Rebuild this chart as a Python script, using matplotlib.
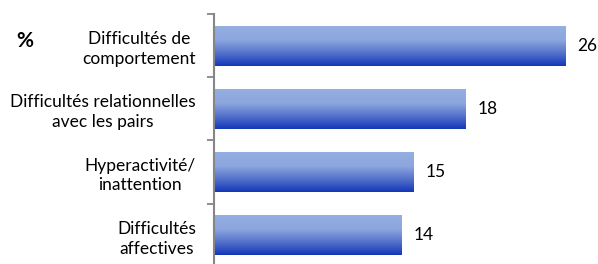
import numpy as np
import matplotlib
matplotlib.use('Agg')
import matplotlib.pyplot as plt
from matplotlib.colors import LinearSegmentedColormap

# data (labels show rounded values)
categories = ['Difficultés de\ncomportement',
              'Difficultés relationnelles\navec les pairs',
              'Hyperactivité/\ninattention',
              'Difficultés\naffectives']
values = [25.7, 18.4, 14.6, 13.7]

plt.rcParams['font.family'] = ['Lato', 'DejaVu Sans']

fig = plt.figure(figsize=(5.98, 2.64), dpi=100)
ax = fig.add_axes([0.358, -0.011, 0.642, 0.958])

pos = np.arange(len(categories))
bars = ax.barh(pos, values, height=0.63, color='none', edgecolor='none')
ax.set_ylim(len(categories) - 0.5, -0.5)
ax.set_xlim(0, 28.1)

# vertical gradient: light on top, dark blue at bottom
cmap = LinearSegmentedColormap.from_list('grad', [
    (0.0, (149/255, 175/255, 226/255)),
    (0.35, (140/255, 166/255, 222/255)),
    (0.7, (80/255, 110/255, 202/255)),
    (1.0, (20/255, 55/255, 185/255))])
grad = np.linspace(0, 1, 100).reshape(-1, 1)
for b in bars:
    x0, y0 = b.get_x(), b.get_y()
    w, h = b.get_width(), b.get_height()
    ax.imshow(grad, cmap=cmap, aspect='auto', origin='upper',
              extent=[x0, x0 + w, y0 + h, y0], zorder=2)

for i, v in enumerate(values):
    ax.annotate(f'{v:.0f}', xy=(v, i), xytext=(9, 0), textcoords='offset points',
                va='center', ha='left', fontsize=12.5, color='black', annotation_clip=False)

ax.set_yticks(pos)
ax.set_yticklabels(categories, fontsize=12.5, linespacing=1.3, ha='right',
                   multialignment='center')
ax.tick_params(axis='y', which='major', length=0, pad=13)
ax.set_yticks(np.arange(-0.5, len(categories), 1), minor=True)
ax.tick_params(axis='y', which='minor', length=5, width=1.3, color='#868686', direction='out')
ax.set_xticks([])

for s in ['top', 'right', 'bottom']:
    ax.spines[s].set_visible(False)
ax.spines['left'].set_color('#868686')
ax.spines['left'].set_linewidth(1.5)

fig.text(16/598, 1 - 41/264, '%', fontsize=15, fontweight='bold', va='center', ha='left')

fig.savefig('out.png', dpi=100)
